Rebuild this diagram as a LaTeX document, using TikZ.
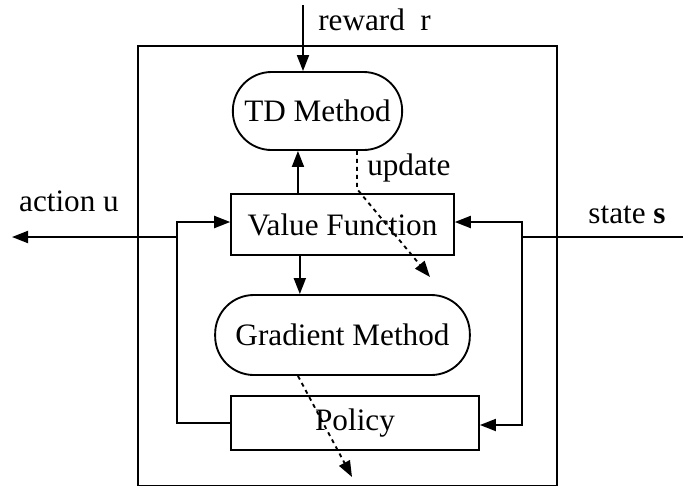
\documentclass[tikz,border=0pt]{standalone}
\usepackage{fontspec}
\setmainfont{Liberation Serif}
\usetikzlibrary{positioning, arrows.meta, calc}
\tikzset{
    methodbox/.style={rectangle, rounded corners=29pt, draw=black, line width=1.4pt, align=center, font=\fontsize{23.4}{28}\selectfont},
    blockbox/.style={rectangle, draw=black, line width=1.4pt, align=center, font=\fontsize{23.4}{28}\selectfont},
    lbl/.style={font=\fontsize{23.4}{28}\selectfont, inner sep=0pt},
    arr/.style={-{Triangle[length=12pt,width=9pt]}, line width=1.4pt},
    dasharr/.style={-{Triangle[length=12pt,width=9pt]}, line width=1.4pt, dash pattern=on 3pt off 3pt}
}
\begin{document}
\begin{tikzpicture}[x=0.75pt, y=-0.75pt]
        \useasboundingbox (0,0) rectangle (683,487);
        % outer frame
        \draw[line width=1.4pt] (138,46) rectangle (557,485.5);
        \node[methodbox, minimum width=127pt, minimum height=58.5pt] (td)   at (317.5,111) {TD Method};
        \node[blockbox,  minimum width=167pt, minimum height=46pt]   (vf)   at (342.5,224.5) {Value Function};
        \node[methodbox, minimum width=191pt, minimum height=60pt]   (grad) at (342.5,335) {Gradient Method};
        \node[blockbox,  minimum width=186pt, minimum height=40.5pt] (pol)  at (355,423) {Policy};
        \coordinate (rwd)  at (303,5);
        \coordinate (lbus) at (177,237);
        \coordinate (rbus) at (522,237);
        \coordinate (act)  at (12,237);
        \coordinate (st)   at (683,237);
        \coordinate (upd)  at (430,277);
        \coordinate (pgd)  at (352,477);
        \node[lbl, anchor=west] (rlab) at (318,20) {reward~~r};
        \node[lbl] (alab) at (69,201) {action u};
        \node[lbl] (slab) at (627,215) {state \textbf{s}};
        \node[lbl, anchor=west] (ulab) at (367,168) {update};
        % signal flow
        \draw[arr] (rwd) -- (rwd |- td.north);
        \draw[arr] ([xshift=-33.4pt]vf.north) -- ([xshift=-33.4pt]vf.north |- td.south);
        \draw[arr] ([xshift=-32pt]vf.south) -- ([xshift=-32pt]vf.south |- grad.north);
        \draw[arr] (pol.west) -- (pol.west -| lbus) -- (lbus |- 0,222) -- (vf.west |- 0,222);
        \draw[arr] (lbus) -- (act);
        \draw[line width=1.4pt] (st) -- (rbus);
        \draw[arr] (rbus) -- (rbus |- 0,222) -- (vf.east |- 0,222);
        \draw[arr] (rbus) -- (rbus |- 0,425) -- (pol.east |- 0,425);
        % updates
        \draw[dasharr] ([xshift=29.6pt]td.south) -- ++(0,38) -- (upd);
        \draw[dasharr] ([xshift=-33.4pt]grad.south) -- (pgd);
\end{tikzpicture}
\end{document}
